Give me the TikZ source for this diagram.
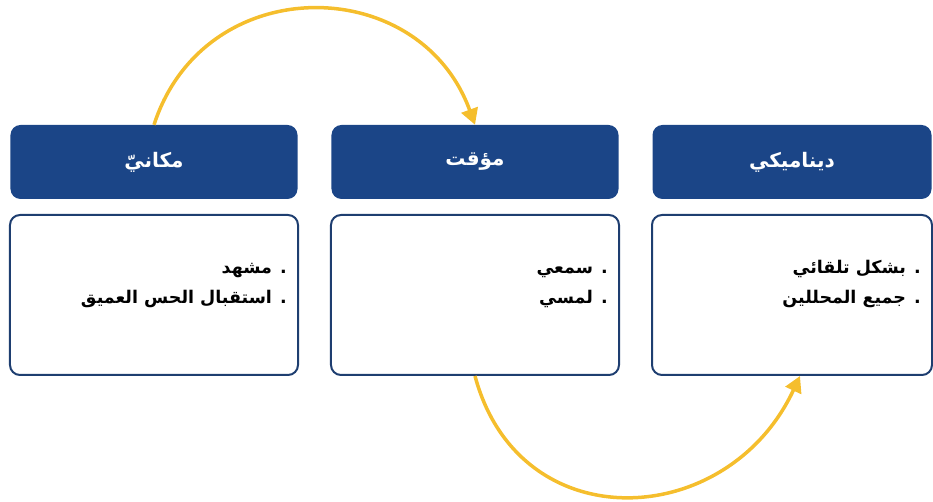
\documentclass[tikz,border=0pt]{standalone}
\usepackage{fontspec}
\newfontfamily\arabicfont[Script=Arabic]{DejaVu Sans}
\TeXXeTstate=1
\usetikzlibrary{matrix,arrows.meta}
\definecolor{headblue}{RGB}{27,69,135}
\definecolor{frameblue}{RGB}{30,62,112}
\definecolor{loopyellow}{RGB}{245,190,45}
% fixed height for the first line of a list
\newcommand{\firstrow}{\rule{0pt}{24pt}}
\tikzset{head/.style={fill=headblue,rounded corners=10pt,minimum width=287pt,
        minimum height=74pt,text=white,font=\arabicfont\bfseries\fontsize{20}{24}\selectfont},
    body/.style={draw=frameblue,line width=2pt,rounded corners=10pt,
        minimum width=288pt,minimum height=160pt},
    items/.style={anchor=north east,inner sep=0pt,align=right,
        font=\arabicfont\bfseries\fontsize{17.5}{30}\selectfont},
    loopline/.style={draw=loopyellow,line width=3.5pt,-{Triangle[length=16pt,width=17pt]}}}

\begin{document}
\begin{tikzpicture}[x=1pt,y=1pt]
        \useasboundingbox (0,0) rectangle (933,502);
        \matrix (m) at (471,251.5) [
            column sep=31pt,
            row sep=15pt
        ]
        { \node[head] (h1) {\beginR مكانيّ\endR};
        & \node[head] (h2) {\beginR مؤقت\endR};
        & \node[head,minimum width=279pt] (h3) {\beginR ديناميكي\endR}; \\
          \node[body] (b1) {};
        & \node[body] (b2) {};
        & \node[body,minimum width=280pt] (b3) {}; \\
        };

        % bullet lines in each box
        \node[items] (l1) at ([shift={(-12pt,-35pt)}]b1.north east)
            {\firstrow\beginR . مشهد\endR\\\beginR . استقبال الحس العميق\endR};
        \node[items] (l2) at ([shift={(-12pt,-35pt)}]b2.north east)
            {\firstrow\beginR . سمعي\endR\\\beginR . لمسي\endR};
        \node[items] (l3) at ([shift={(-12pt,-35pt)}]b3.north east)
            {\firstrow\beginR . بشكل تلقائي\endR\\\beginR . جميع المحللين\endR};

        \draw[loopline] (h1.north) to[out=72,in=110,looseness=1.3] (h2.north);
        \draw[loopline] (b2.south) to[out=-75,in=-115,looseness=1.35] ([xshift=8pt]b3.south);
\end{tikzpicture}
\end{document}
